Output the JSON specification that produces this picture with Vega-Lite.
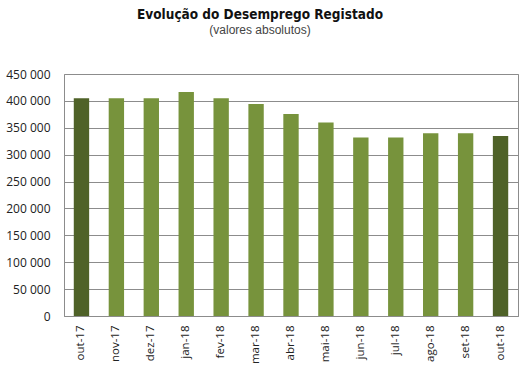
{
  "$schema": "https://vega.github.io/schema/vega-lite/v6.json",
  "width": 454,
  "height": 242,
  "autosize": {"type": "none"},
  "padding": {"left": 64, "top": 74, "right": 11, "bottom": 53},
  "background": "white",
  "title": {
    "text": "Evolução do Desemprego Registado",
    "subtitle": "(valores absolutos)",
    "anchor": "middle",
    "dx": -31,
    "offset": 32,
    "font": "DejaVu Sans Condensed",
    "fontSize": 13.5,
    "fontWeight": "bold",
    "color": "#111111",
    "subtitleFont": "Liberation Sans",
    "subtitleFontSize": 12,
    "subtitleColor": "#444444",
    "subtitlePadding": 4
  },
  "data": {
    "values": [
      {"mes": "out-17", "valor": 405000, "destaque": "sim"},
      {"mes": "nov-17", "valor": 405000, "destaque": "nao"},
      {"mes": "dez-17", "valor": 405000, "destaque": "nao"},
      {"mes": "jan-18", "valor": 416500, "destaque": "nao"},
      {"mes": "fev-18", "valor": 405000, "destaque": "nao"},
      {"mes": "mar-18", "valor": 394000, "destaque": "nao"},
      {"mes": "abr-18", "valor": 375600, "destaque": "nao"},
      {"mes": "mai-18", "valor": 360000, "destaque": "nao"},
      {"mes": "jun-18", "valor": 332000, "destaque": "nao"},
      {"mes": "jul-18", "valor": 332000, "destaque": "nao"},
      {"mes": "ago-18", "valor": 339700, "destaque": "nao"},
      {"mes": "set-18", "valor": 339700, "destaque": "nao"},
      {"mes": "out-18", "valor": 334700, "destaque": "sim"}
    ]
  },
  "config": {
    "view": {"stroke": "#8c8c8c", "strokeWidth": 1},
    "axis": {"labelFont": "Open Sans", "labelColor": "#222222"}
  },
  "mark": {"type": "bar"},
  "encoding": {
    "x": {
      "field": "mes",
      "type": "nominal",
      "sort": null,
      "scale": {"paddingInner": 0.56, "paddingOuter": 0.28},
      "axis": {
        "title": null,
        "labelAngle": -90,
        "labelFontSize": 11.5,
        "labelPadding": 9,
        "ticks": false,
        "domain": true,
        "domainColor": "#8c8c8c",
        "grid": false
      }
    },
    "y": {
      "field": "valor",
      "type": "quantitative",
      "scale": {"domain": [0, 450000], "nice": false},
      "axis": {
        "title": null,
        "values": [0, 50000, 100000, 150000, 200000, 250000, 300000, 350000, 400000, 450000],
        "labelExpr": "replace(format(datum.value, ','), regexp(',', 'g'), ' ')",
        "labelFontSize": 12,
        "labelPadding": 14,
        "ticks": false,
        "domain": false,
        "grid": true,
        "gridColor": "#8c8c8c",
        "gridWidth": 1
      }
    },
    "color": {
      "field": "destaque",
      "type": "nominal",
      "scale": {"domain": ["sim", "nao"], "range": ["#4f6228", "#77933c"]},
      "legend": null
    }
  }
}
